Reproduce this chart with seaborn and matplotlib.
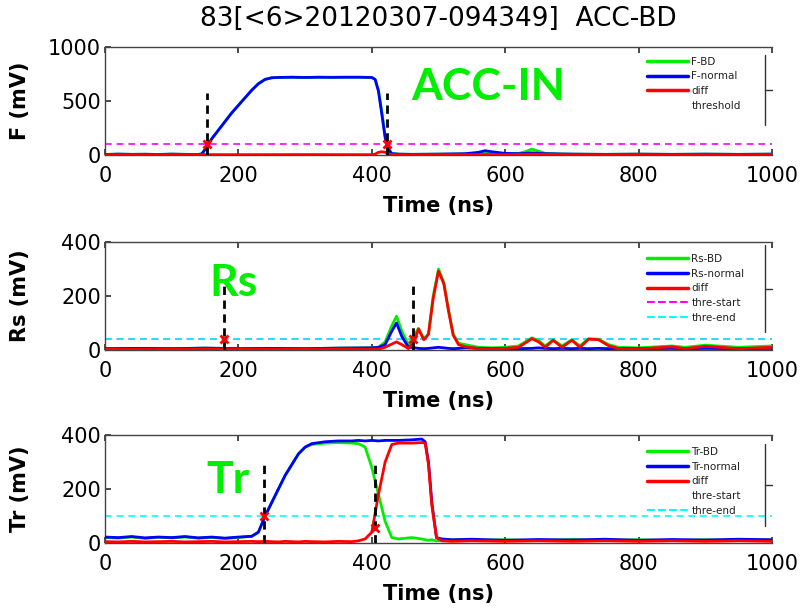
import numpy as np
import pandas as pd
import matplotlib
matplotlib.use("Agg")
import matplotlib.pyplot as plt
from matplotlib.lines import Line2D
import seaborn as sns

# ---------------- data ----------------
title_text = "83[<6>20120307-094349]  ACC-BD"
x_ticks = [0, 200, 400, 600, 800, 1000]

# Panel F
f_t = [0, 20, 40, 60, 80, 100, 120, 140, 145, 150, 155, 160, 170, 180, 190, 200, 210, 220, 230, 240,
       250, 260, 280, 300, 320, 340, 360, 380, 400, 405, 410, 415, 420, 425, 430, 440, 460, 500, 540,
       560, 570, 580, 600, 620, 630, 640, 650, 660, 680, 700, 750, 800, 850, 900, 950, 1000]
f_bd = [5, 8, 6, 7, 5, 8, 6, 5, 10, 50, 100, 150, 230, 310, 390, 460, 530, 600, 660, 700,
        715, 718, 720, 718, 720, 719, 720, 720, 718, 700, 600, 400, 180, 60, 15, 8, 6, 8, 10,
        15, 20, 15, 12, 15, 30, 55, 35, 15, 10, 8, 6, 8, 6, 8, 6, 8]
f_normal = [5, 8, 6, 7, 5, 8, 6, 5, 10, 50, 100, 150, 230, 310, 390, 460, 530, 600, 660, 700,
            715, 718, 720, 718, 720, 719, 720, 720, 718, 700, 590, 380, 160, 50, 12, 8, 6, 8, 12,
            25, 40, 30, 15, 12, 15, 20, 15, 12, 10, 8, 6, 8, 6, 8, 6, 8]
f_diff_t = [0, 100, 200, 300, 400, 405, 410, 415, 420, 425, 430, 500, 600, 640, 700, 800, 900, 1000]
f_diff = [3, 4, 3, 4, 3, 8, 25, 30, 25, 8, 3, 4, 3, 8, 3, 4, 3, 4]
f_threshold = 100
f_mark_x = [153, 423]
f_mark_y = [100, 100]
f_vline_x = [153, 423]
f_vline_top = [570, 570]

# Panel Rs
rs_t = [0, 50, 100, 150, 200, 250, 300, 350, 400, 410, 420, 430, 437, 445, 455, 465, 470, 478, 485,
        492, 500, 508, 515, 522, 530, 540, 560, 580, 600, 620, 640, 650, 660, 672, 685, 700, 712,
        725, 740, 755, 770, 800, 850, 870, 900, 950, 1000]
rs_bd = [5, 6, 5, 7, 5, 6, 5, 7, 8, 10, 30, 90, 125, 70, 20, 60, 80, 40, 60,
         200, 300, 250, 150, 60, 25, 20, 10, 8, 10, 15, 45, 35, 15, 38, 15, 38, 15,
         42, 40, 20, 10, 8, 15, 10, 18, 10, 15]
rs_normal = [5, 6, 5, 7, 5, 6, 5, 7, 8, 10, 20, 70, 100, 50, 10, 8, 6, 5, 6,
             8, 10, 8, 6, 5, 6, 8, 6, 5, 6, 5, 6, 8, 6, 5, 6, 5, 6,
             5, 6, 5, 6, 5, 6, 5, 6, 5, 6]
rs_diff = [3, 3, 3, 4, 3, 3, 3, 4, 3, 3, 10, 22, 30, 20, 5, 40, 78, 38, 58,
           190, 292, 245, 145, 55, 20, 12, 5, 4, 6, 10, 42, 30, 10, 36, 10, 36, 10,
           40, 38, 16, 5, 4, 12, 5, 14, 5, 10]
rs_thre_start = 40
rs_thre_end = 40
rs_mark_x = [178, 462]
rs_mark_y = [40, 40]
rs_vline_x = [178, 462]
rs_vline_top = [240, 240]

# Panel Tr
tr_t = [0, 20, 40, 60, 80, 100, 120, 140, 160, 180, 200, 220, 230, 240, 250, 260, 270, 280, 290,
        300, 310, 330, 350, 370, 380, 390, 400, 410, 420, 430, 440, 460, 475, 480, 485, 490, 497,
        505, 520, 550, 600, 650, 700, 750, 800, 850, 900, 950, 1000]
tr_bd = [20, 18, 22, 17, 21, 19, 22, 18, 20, 17, 20, 25, 40, 100, 150, 200, 250, 290, 330,
         355, 365, 370, 372, 370, 368, 355, 280, 180, 80, 20, 15, 20, 15, 12, 10, 12, 8,
         10, 12, 10, 12, 9, 13, 10, 12, 9, 12, 10, 12]
tr_normal = [22, 20, 24, 19, 22, 20, 24, 19, 22, 18, 22, 25, 40, 100, 150, 200, 250, 290, 330,
             355, 368, 375, 378, 378, 380, 378, 380, 378, 380, 380, 380, 382, 385, 375, 300, 150, 20,
             15, 12, 14, 10, 13, 11, 14, 10, 13, 11, 14, 12]
tr_diff = [5, 4, 6, 4, 5, 6, 4, 5, 6, 4, 5, 6, 5, 6, 5, 4, 6, 5, 4,
           6, 5, 4, 6, 5, 8, 15, 40, 180, 300, 365, 370, 370, 372, 370, 290, 140, 20,
           8, 6, 8, 6, 8, 6, 8, 6, 8, 6, 8, 6]
tr_thre_start = 100
tr_thre_end = 100
tr_mark_x = [239, 405]
tr_mark_y = [100, 55]
tr_vline_x = [239, 405]
tr_vline_top = [300, 300]

panels = [
    dict(ylabel="F (mV)", ylim=(0, 1000), yticks=[0, 500, 1000],
         t_bd=f_t, bd=f_bd, t_nm=f_t, nm=f_normal, t_diff=f_diff_t, diff=f_diff,
         thr=[("magenta", f_threshold)], mx=f_mark_x, my=f_mark_y, vx=f_vline_x, vtop=f_vline_top,
         labels=["F-BD", "F-normal", "diff", "threshold"],
         leg_styles=[("#00ee00", "-"), ("#0000ff", "-"), ("#ff0000", "-"), ("none", "-")],
         tag="ACC-IN", tag_xy=(574, 630)),
    dict(ylabel="Rs (mV)", ylim=(0, 400), yticks=[0, 200, 400],
         t_bd=rs_t, bd=rs_bd, t_nm=rs_t, nm=rs_normal, t_diff=rs_t, diff=rs_diff,
         thr=[("magenta", rs_thre_start), ("cyan", rs_thre_end)], mx=rs_mark_x, my=rs_mark_y,
         vx=rs_vline_x, vtop=rs_vline_top,
         labels=["Rs-BD", "Rs-normal", "diff", "thre-start", "thre-end"],
         leg_styles=[("#00ee00", "-"), ("#0000ff", "-"), ("#ff0000", "-"), ("magenta", "--"), ("cyan", "--")],
         tag="Rs", tag_xy=(193, 250)),
    dict(ylabel="Tr (mV)", ylim=(0, 400), yticks=[0, 200, 400],
         t_bd=tr_t, bd=tr_bd, t_nm=tr_t, nm=tr_normal, t_diff=tr_t, diff=tr_diff,
         thr=[("cyan", tr_thre_end)], mx=tr_mark_x, my=tr_mark_y,
         vx=tr_vline_x, vtop=tr_vline_top,
         labels=["Tr-BD", "Tr-normal", "diff", "thre-start", "thre-end"],
         leg_styles=[("#00ee00", "-"), ("#0000ff", "-"), ("#ff0000", "-"), ("none", "-"), ("cyan", "--")],
         tag="Tr", tag_xy=(184, 232)),
]

# ---------------- plot ----------------
sns.set_theme(style="white")
plt.rcParams["font.family"] = ["DejaVu Sans"]
plt.rcParams["text.color"] = "black"
plt.rcParams["axes.labelcolor"] = "black"
plt.rcParams["xtick.color"] = "black"
plt.rcParams["ytick.color"] = "black"

fig = plt.figure(figsize=(8.03, 6.09), dpi=100)
W, H = 803, 609
ax_left, ax_right = 105, 772
tops = [47, 242, 435]
hgt = 108
leg_tops = [0.91, 0.89, 0.89]
vline_span = [(0.278, 0.926), (0.167, 0.97), (0.157, 0.917)]

for p, top, lt, vs in zip(panels, tops, leg_tops, vline_span):
    ax = fig.add_axes([ax_left / W, 1 - (top + hgt) / H, (ax_right - ax_left) / W, hgt / H])
    for col, val in p["thr"]:
        ax.axhline(val, color=col, ls=(0, (4, 3)), lw=1.2, zorder=1)
    sns.lineplot(x=p["t_bd"], y=p["bd"], ax=ax, color="#00ee00", lw=2, estimator=None, zorder=2)
    sns.lineplot(x=p["t_nm"], y=p["nm"], ax=ax, color="#0000ff", lw=2, estimator=None, zorder=3)
    sns.lineplot(x=p["t_diff"], y=p["diff"], ax=ax, color="#ff0000", lw=2, estimator=None, zorder=4)
    for vx, vt in zip(p["vx"], p["vtop"]):
        ax.plot([vx, vx], [0, vt], color="black", ls=(0, (3, 2)), lw=2, zorder=5)
    ax.plot(p["mx"], p["my"], ls="none", marker="x", color="red", ms=6, mew=2, zorder=6)

    ax.set_xlim(0, 1000)
    ax.set_ylim(*p["ylim"])
    ax.set_xticks(x_ticks)
    ax.set_yticks(p["yticks"])
    ax.tick_params(axis="both", labelsize=15, direction="in", length=4, color="#333333",
                   labelcolor="black", top=True, bottom=True, left=True, right=False)
    ax.tick_params(axis="x", pad=8)
    ax.tick_params(axis="y", pad=3)
    for s in ["top", "left", "bottom"]:
        ax.spines[s].set_color("#444444")
        ax.spines[s].set_linewidth(1.0)
    ax.spines["right"].set_visible(False)
    ax.set_xlabel("Time (ns)", fontsize=15, fontweight="bold", labelpad=7, color="black")
    ax.set_ylabel(p["ylabel"], fontsize=15, fontweight="bold", labelpad=2, color="black")
    ax.yaxis.set_label_coords(-0.112, 0.5)

    handles = [Line2D([], [], color=c, ls=ls, lw=2.5 if ls == "-" else 1.5) for c, ls in p["leg_styles"]]
    leg = ax.legend(handles, p["labels"], loc="upper left", bbox_to_anchor=(0.812, lt),
                    frameon=False, fontsize=7.5, handlelength=4.0, handletextpad=0.3,
                    labelspacing=0.45, borderpad=0, borderaxespad=0)
    for txt in leg.get_texts():
        txt.set_color("#222222")
    ax.plot([0.99, 0.99], list(vs), transform=ax.transAxes, color="#333333", lw=1, clip_on=False)
    mid = (vs[0] + vs[1]) / 2
    ax.plot([0.99, 1.0], [mid, mid], transform=ax.transAxes, color="#333333", lw=1, clip_on=False)

    ax.text(p["tag_xy"][0], p["tag_xy"][1], p["tag"], color="#00ee00", fontsize=32,
            fontweight="bold", family="Lato", ha="center", va="center", zorder=7)

fig.text((ax_left + ax_right) / 2 / W, 1 - 19 / H, title_text, ha="center", va="center",
         fontsize=19, color="black")

fig.savefig("out.png", dpi=100, facecolor="white")
